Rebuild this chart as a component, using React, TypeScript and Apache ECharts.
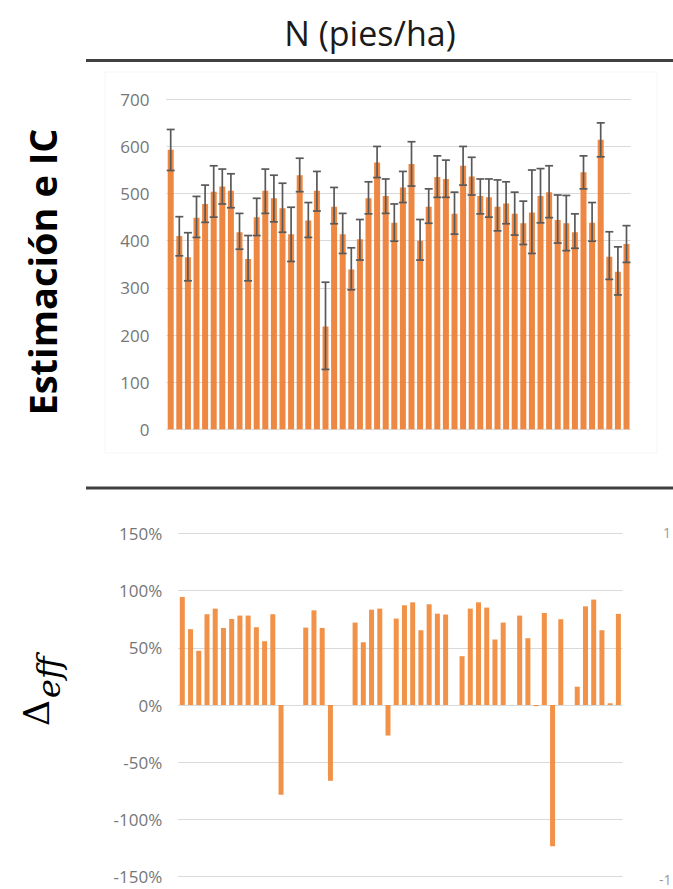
import React, { useEffect, useRef } from "react";
import * as echarts from "echarts";

// ---- Data ----
const categories: string[] = Array.from({ length: 54 }, (_, i) => String(i + 1));

const estimates: number[] = [
  593, 410, 365, 449, 478, 504, 515, 506, 418, 361,
  450, 506, 490, 469, 414, 539, 443, 506, 218, 472,
  414, 339, 403, 490, 566, 495, 438, 513, 563, 400,
  472, 535, 531, 457, 559, 536, 495, 492, 472, 479,
  457, 437, 460, 495, 503, 444, 437, 418, 545, 438,
  614, 366, 334, 393,
];

const lowerCI: number[] = [
  549, 368, 315, 407, 439, 450, 478, 470, 382, 315,
  411, 458, 440, 418, 356, 504, 407, 463, 127, 436,
  373, 296, 359, 457, 534, 458, 399, 481, 516, 359,
  437, 492, 492, 414, 518, 497, 457, 450, 421, 436,
  412, 392, 373, 438, 449, 395, 379, 384, 510, 399,
  578, 318, 285, 354,
];

const upperCI: number[] = [
  636, 451, 417, 494, 518, 559, 552, 542, 458, 411,
  490, 552, 539, 522, 471, 575, 481, 547, 312, 513,
  458, 385, 445, 525, 600, 531, 478, 547, 610, 445,
  510, 580, 571, 503, 600, 577, 531, 531, 529, 525,
  503, 484, 550, 553, 559, 497, 496, 457, 580, 481,
  650, 419, 387, 432,
];

const deltaEff: (number | null)[] = [
  94.5, 66.3, 47.4, 79.4, 84.3, 67.4, 75.3, 78.2, 78.2, 68,
  55.8, 79.4, -78.5, null, null, 67.7, 82.8, 67.4, -66.3, null,
  null, 72.1, 54.9, 83.4, 84.3, -26.7, 75.6, 87.2, 89.8, 65.4,
  88.1, 79.9, 79.1, null, 42.7, 84.3, 89.8, 85.2, 57.3, 72.1,
  null, 78.2, 58.4, -1, 80.5, -123.5, 75, null, 16, 86.3,
  92.2, 65.4, 1.5, 79.7,
];

const topTicks = { min: 0, max: 700, interval: 100 };
const bottomTicks = { min: -150, max: 150, interval: 50 };

const titleText = "N (pies/ha)";
const topAxisTitle = "Estimación e IC";

export default function App() {
  const ref = useRef<HTMLDivElement>(null);

  useEffect(() => {
    if (!ref.current) return;
    const chart = echarts.init(ref.current, null, { renderer: "svg" });

    const labelStyle = {
      color: "#767676",
      fontSize: 17,
      fontFamily: "Open Sans",
    };
    const gridLine = { lineStyle: { color: "#d9d9d9", width: 1 } };

    const errData = estimates.map((_, i) => [i, lowerCI[i], upperCI[i]]);

    const option: any = {
      animation: false,
      backgroundColor: "#ffffff",
      grid: [
        { left: 166.4, right: 42.2, top: 99.3, height: 330, outerBoundsMode: "none" },
        { left: 178.2, right: 50.5, top: 533.5, height: 343, outerBoundsMode: "none" },
      ],
      xAxis: [
        {
          type: "category",
          gridIndex: 0,
          data: categories,
          axisLine: { show: false },
          axisTick: { show: false },
          axisLabel: { show: false },
        },
        {
          type: "category",
          gridIndex: 1,
          data: categories,
          axisLine: { show: false },
          axisTick: { show: false },
          axisLabel: { show: false },
        },
      ],
      yAxis: [
        {
          type: "value",
          gridIndex: 0,
          min: topTicks.min,
          max: topTicks.max,
          interval: topTicks.interval,
          axisLine: { show: false },
          axisTick: { show: false },
          axisLabel: { ...labelStyle, margin: 17 },
          splitLine: gridLine,
        },
        {
          type: "value",
          gridIndex: 1,
          min: bottomTicks.min,
          max: bottomTicks.max,
          interval: bottomTicks.interval,
          axisLine: { show: false },
          axisTick: { show: false },
          axisLabel: { ...labelStyle, margin: 16, formatter: "{value}%" },
          splitLine: gridLine,
        },
      ],
      series: [
        {
          type: "bar",
          xAxisIndex: 0,
          yAxisIndex: 0,
          data: estimates,
          barWidth: 6,
          itemStyle: { color: "#ED7D31", opacity: 0.92 },
        },
        {
          type: "custom",
          xAxisIndex: 0,
          yAxisIndex: 0,
          data: errData,
          encode: { x: 0, y: [1, 2] },
          z: 10,
          renderItem: (_params: any, api: any) => {
            const idx = api.value(0);
            const lo = api.coord([idx, api.value(1)]);
            const hi = api.coord([idx, api.value(2)]);
            const half = 4;
            const style = { stroke: "#595959", lineWidth: 1.7 };
            return {
              type: "group",
              children: [
                { type: "line", shape: { x1: lo[0], y1: lo[1], x2: hi[0], y2: hi[1] }, style },
                { type: "line", shape: { x1: hi[0] - half, y1: hi[1], x2: hi[0] + half, y2: hi[1] }, style },
                { type: "line", shape: { x1: lo[0] - half, y1: lo[1], x2: lo[0] + half, y2: lo[1] }, style },
              ],
            };
          },
        },
        {
          type: "bar",
          xAxisIndex: 1,
          yAxisIndex: 1,
          data: deltaEff,
          barWidth: 5,
          itemStyle: { color: "#F08634", opacity: 0.9 },
        },
      ],
      graphic: [
        {
          type: "rect",
          silent: true,
          shape: { x: 105, y: 72, width: 552, height: 381 },
          style: { fill: "none", stroke: "#f6f6f6", lineWidth: 1 },
          z: -1,
        },
        {
          type: "text",
          x: 370,
          y: 33,
          style: {
            text: titleText,
            fill: "#1a1a1a",
            fontSize: 34,
            fontFamily: "Open Sans",
            align: "center",
            verticalAlign: "middle",
          },
        },
        {
          type: "line",
          shape: { x1: 86, y1: 60.5, x2: 673, y2: 60.5 },
          style: { stroke: "#404040", lineWidth: 3 },
        },
        {
          type: "line",
          shape: { x1: 86, y1: 488, x2: 673, y2: 488 },
          style: { stroke: "#404040", lineWidth: 3 },
        },
        {
          type: "text",
          x: 42,
          y: 272,
          rotation: Math.PI / 2,
          style: {
            text: topAxisTitle,
            fill: "#000000",
            fontSize: 38,
            fontWeight: "bold",
            fontFamily: "Open Sans",
            align: "center",
            verticalAlign: "middle",
          },
        },
        {
          type: "group",
          x: 36.5,
          y: 700,
          rotation: Math.PI / 2,
          children: [
            {
              type: "text",
              x: 0,
              y: 0,
              style: {
                text: "Δ",
                fill: "#000000",
                fontSize: 36,
                fontFamily: "DejaVu Serif",
                align: "right",
                verticalAlign: "middle",
              },
            },
            {
              type: "text",
              x: 2,
              y: 12.5,
              style: {
                text: "eff",
                fill: "#000000",
                fontSize: 32,
                fontStyle: "italic",
                fontFamily: "DejaVu Serif",
                align: "left",
                verticalAlign: "middle",
              },
            },
          ],
        },
        {
          type: "text",
          x: 663,
          y: 532,
          style: {
            text: "1",
            fill: "#9a9a9a",
            fontSize: 14,
            fontFamily: "Open Sans",
            align: "left",
            verticalAlign: "middle",
          },
        },
        {
          type: "text",
          x: 659,
          y: 879,
          style: {
            text: "-1",
            fill: "#9a9a9a",
            fontSize: 14,
            fontFamily: "Open Sans",
            align: "left",
            verticalAlign: "middle",
          },
        },
      ],
    };

    chart.setOption(option);
    return () => {
      chart.dispose();
    };
  }, []);

  return (
    <div
      ref={ref}
      style={{ position: "absolute", left: 0, top: 0, width: 673, height: 889 }}
    />
  );
}
